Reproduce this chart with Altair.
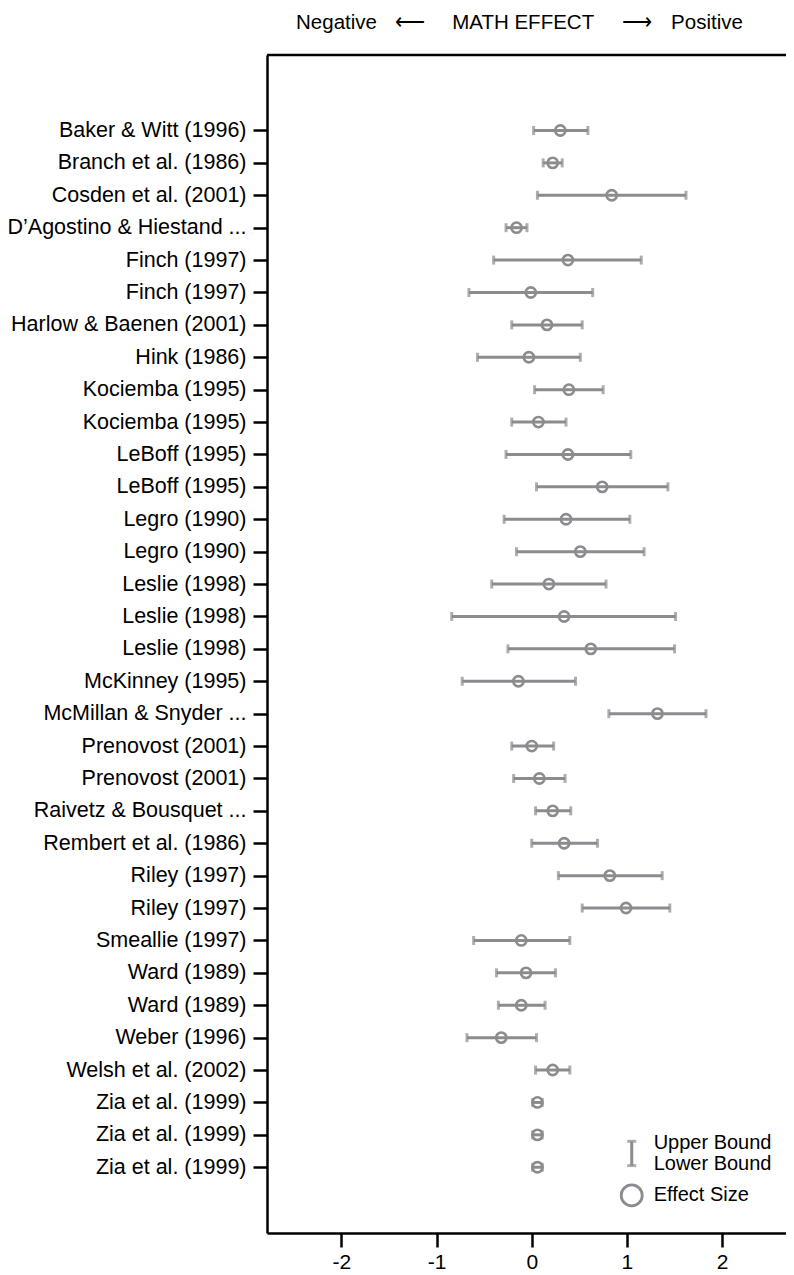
import json
import altair as alt
import pandas as pd

labels = [
    "Baker & Witt (1996)", "Branch et al. (1986)", "Cosden et al. (2001)",
    "D\u2019Agostino & Hiestand ...", "Finch (1997)", "Finch (1997)",
    "Harlow & Baenen (2001)", "Hink (1986)", "Kociemba (1995)", "Kociemba (1995)",
    "LeBoff (1995)", "LeBoff (1995)", "Legro (1990)", "Legro (1990)",
    "Leslie (1998)", "Leslie (1998)", "Leslie (1998)", "McKinney (1995)",
    "McMillan & Snyder ...", "Prenovost (2001)", "Prenovost (2001)",
    "Raivetz & Bousquet ...", "Rembert et al. (1986)", "Riley (1997)", "Riley (1997)",
    "Smeallie (1997)", "Ward (1989)", "Ward (1989)", "Weber (1996)",
    "Welsh et al. (2002)", "Zia et al. (1999)", "Zia et al. (1999)", "Zia et al. (1999)",
]
lower = [0.02, 0.12, 0.06, -0.27, -0.40, -0.66, -0.21, -0.57, 0.03, -0.21,
         -0.27, 0.05, -0.29, -0.16, -0.42, -0.84, -0.25, -0.73, 0.81, -0.21,
         -0.19, 0.04, 0.00, 0.28, 0.53, -0.61, -0.37, -0.35, -0.68, 0.04,
         0.01, 0.01, 0.01]
effect = [0.30, 0.22, 0.84, -0.16, 0.38, -0.01, 0.16, -0.03, 0.39, 0.07,
          0.38, 0.74, 0.36, 0.51, 0.18, 0.34, 0.62, -0.14, 1.32, 0.00,
          0.08, 0.22, 0.34, 0.82, 0.99, -0.11, -0.06, -0.11, -0.32, 0.22,
          0.06, 0.06, 0.06]
upper = [0.59, 0.32, 1.62, -0.05, 1.15, 0.64, 0.53, 0.51, 0.75, 0.36,
         1.04, 1.43, 1.03, 1.18, 0.78, 1.51, 1.50, 0.46, 1.83, 0.23,
         0.35, 0.41, 0.69, 1.37, 1.45, 0.40, 0.25, 0.14, 0.05, 0.40,
         0.11, 0.11, 0.11]
x_ticks = [-2, -1, 0, 1, 2]
heading_parts = ["Negative", "\u27f5", "MATH EFFECT", "\u27f6", "Positive"]
heading_pos = [-2.05, -1.28, -0.09, 1.11, 1.84]
legend_labels = ["Upper Bound", "Lower Bound", "Effect Size"]

GRAY = "#8b8b90"
FONT = "Liberation Sans"
XMIN, XMAX = -2.78, 2.67
YMIN, YMAX = -2.33, 34.03

df = pd.DataFrame({"row": list(range(len(labels))), "label": labels,
                   "low": lower, "est": effect, "high": upper})

xs = alt.Scale(domain=[XMIN, XMAX], nice=False, zero=False)
ys = alt.Scale(domain=[YMIN, YMAX], reverse=True, nice=False, zero=False)

label_expr = json.dumps(labels, ensure_ascii=False) + "[datum.value]"

x_axis = alt.Axis(values=x_ticks, title=None, grid=False, labelPadding=4,
                  labelExpr="'' + datum.value")
y_axis = alt.Axis(values=list(range(len(labels))), labelExpr=label_expr,
                  title=None, grid=False, labelPadding=7, labelLimit=400,
                  labelOverlap=False, labelFontSize=21.5)


def X(field):
    return alt.X(field, scale=xs, axis=x_axis, title=None)


def Y(field):
    return alt.Y(field, scale=ys, axis=y_axis, title=None)


base = alt.Chart(df)
bars = base.mark_rule(color=GRAY, strokeWidth=3).encode(
    x=X("low:Q"), x2="high:Q", y=Y("row:Q"))
cap_lo = base.mark_tick(color=GRAY, thickness=3, size=9, orient="vertical").encode(
    x=X("low:Q"), y=Y("row:Q"))
cap_hi = base.mark_tick(color=GRAY, thickness=3, size=9, orient="vertical").encode(
    x=X("high:Q"), y=Y("row:Q"))
pts = base.mark_point(shape="circle", filled=False, color=GRAY, strokeWidth=2.6,
                      size=105, opacity=1).encode(x=X("est:Q"), y=Y("row:Q"))

# top frame line
frame_df = pd.DataFrame({"x1": [XMIN], "x2": [XMAX], "y": [YMIN]})
top_line = alt.Chart(frame_df).mark_rule(color="black", strokeWidth=2.5).encode(
    x=X("x1:Q"), x2="x2:Q", y=Y("y:Q"))

# heading text above the plot
head_df = pd.DataFrame({"x": heading_pos, "t": heading_parts})
heading = alt.Chart(head_df).mark_text(font=FONT, fontSize=20.5, color="black",
                                       align="center", baseline="alphabetic").encode(
    x=X("x:Q"), y=alt.value(-26), text="t:N")

# legend
leg_x = [1.05]
leg_bar_df = pd.DataFrame({"x": leg_x, "y1": [31.2], "y2": [31.95]})
leg_bar = alt.Chart(leg_bar_df).mark_rule(color=GRAY, strokeWidth=3).encode(
    x=X("x:Q"), y=Y("y1:Q"), y2="y2:Q")
leg_caps_df = pd.DataFrame({"x": leg_x * 2, "y": [31.2, 31.95]})
leg_caps = alt.Chart(leg_caps_df).mark_tick(color=GRAY, thickness=3, size=9,
                                            orient="horizontal").encode(
    x=X("x:Q"), y=Y("y:Q"))
leg_circ_df = pd.DataFrame({"x": leg_x, "y": [32.87]})
leg_circ = alt.Chart(leg_circ_df).mark_point(shape="circle", filled=False, color=GRAY,
                                             strokeWidth=2.8, size=440, opacity=1).encode(
    x=X("x:Q"), y=Y("y:Q"))
leg_text_df = pd.DataFrame({"x": [1.28, 1.28, 1.28], "y": [31.25, 31.9, 32.87],
                            "t": legend_labels})
leg_text = alt.Chart(leg_text_df).mark_text(align="left", baseline="middle", font=FONT,
                                            fontSize=20, color="black").encode(
    x=X("x:Q"), y=Y("y:Q"), text="t:N")

chart = alt.layer(bars, top_line, cap_lo, cap_hi, pts, heading, leg_bar, leg_caps,
                  leg_circ, leg_text).properties(
    width=519, height=1178,
    autosize=alt.AutoSizeParams(type="none"),
    padding={"left": 259, "top": 47, "right": 0, "bottom": 40},
).configure_view(stroke=None).configure_axis(
    domainColor="black", domainWidth=2.5, tickColor="black", tickWidth=2.5,
    tickSize=14, labelFont=FONT, labelFontSize=21, labelColor="black",
).configure_axisY(labelOverlap=False)

chart.save("out.html", embed_options={"renderer": "svg", "actions": False})
